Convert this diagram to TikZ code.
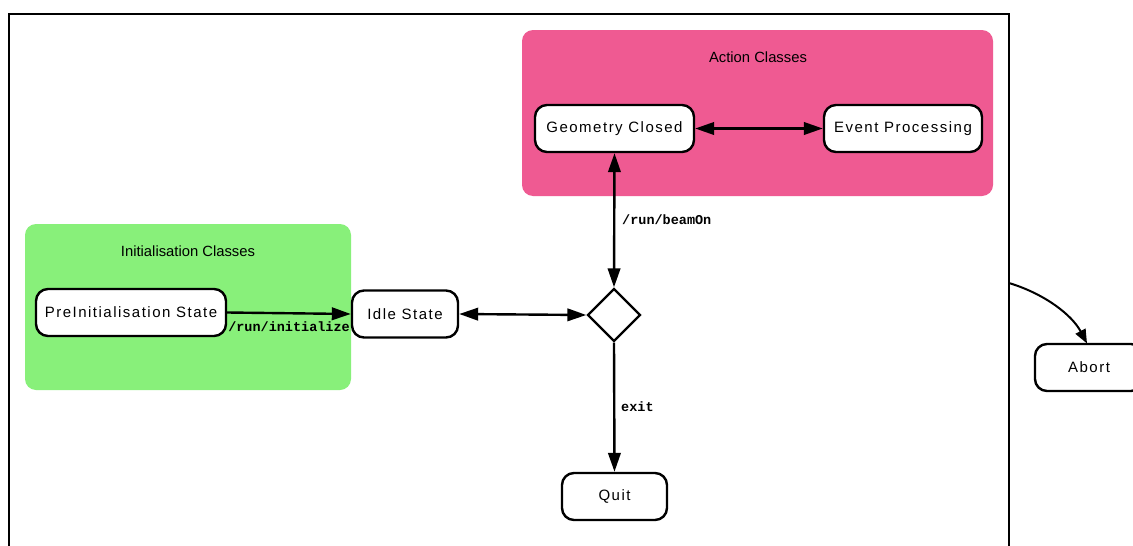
\documentclass[tikz,border=0pt]{standalone}
\usepackage{fontspec}
\setmainfont{Liberation Sans}
\newfontfamily\statefont[LetterSpace=10]{Liberation Sans}
\newfontfamily\cmdfont{Liberation Mono}
\usetikzlibrary{arrows.meta,shapes.geometric}
\definecolor{initgreen}{RGB}{136,240,122}
\definecolor{actionpink}{RGB}{239,90,146}
\begin{document}
\begin{tikzpicture}[x=1pt,y=-1pt,
  state/.style={draw, line width=2.4pt, rounded corners=12pt, fill=white,
    inner sep=0pt, minimum height=47pt, font=\statefont\fontsize{15}{17}\selectfont},
  group/.style={rounded corners=11pt, inner sep=0pt},
  grouptitle/.style={font=\fontsize{14.8}{17}\selectfont, inner sep=0pt},
  flow/.style={line width=2.4pt, -{Triangle[length=19pt,width=12.5pt]}},
  bothflow/.style={line width=2.4pt, {Triangle[length=19pt,width=12.5pt]}-{Triangle[length=19pt,width=12.5pt]}},
  cmd/.style={font=\cmdfont\bfseries\fontsize{13.5}{15}\selectfont, inner sep=0pt}]
\useasboundingbox (0,0) rectangle (1133,546);
\clip (0,0) rectangle (1133,546);
\fill[white] (0,0) rectangle (1133,546);

% outer frame (open at the bottom)
\draw[line width=2.6pt] (9,560) -- (9,14) -- (1009,14) -- (1009,560);

% groups
\node[group, fill=initgreen, minimum width=326pt, minimum height=166pt] (initgroup) at (188,307) {};
\node[grouptitle] (inittitle) at (188,251) {Initialisation Classes};
\node[group, fill=actionpink, minimum width=471pt, minimum height=166pt] (actiongroup) at (757.5,113) {};
\node[grouptitle] (actiontitle) at (758,57) {Action Classes};

% states
\node[state, minimum width=190pt] (pre) at (131,312.5) {PreInitialisation State};
\node[state, minimum width=106pt] (idle) at (405,314) {Idle State};
\node[state, minimum width=159pt] (geom) at (614.5,128.5) {Geometry Closed};
\node[state, minimum width=158pt] (event) at (903,128.5) {Event Processing};
\node[draw, diamond, line width=2.4pt, fill=white, inner sep=0pt,
  minimum width=53pt, minimum height=53pt] (choice) at (614,315) {};
\node[state, minimum width=105pt] (quit) at (614.5,496.5) {Quit};
\node[state, minimum width=108pt] (abort) at (1089,367.5) {Abort};

% transitions
\draw[flow] (pre.east) -- (idle.west);
\node[cmd, anchor=east] (initlabel) at (350,326.5) {/run/initialize};
\draw[bothflow] (idle.east) -- (choice.west);
\draw[bothflow] (geom.east) -- (event.west);
\draw[bothflow] (geom.south) -- (choice.north);
\node[cmd, anchor=west] (beamlabel) at (622,220) {/run/beamOn};
\draw[flow] (choice.south) -- (quit.north);
\node[cmd, anchor=west] (exitlabel) at (621,407) {exit};

\coordinate (abortsrc) at (1009,283);
\coordinate (aborttop) at (1087,343.5);
\draw[line width=2pt, -{Triangle[length=14pt,width=11pt]}] (abortsrc)
  .. controls (1045,294) and (1072,315) .. (aborttop);
\end{tikzpicture}
\end{document}
